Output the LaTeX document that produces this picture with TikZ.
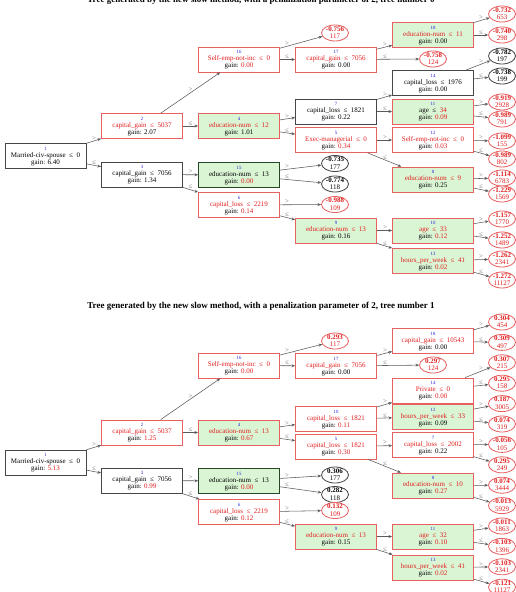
\documentclass[tikz,border=0pt]{standalone}
\usepackage{fontspec}
\setmainfont{Liberation Serif}
\usetikzlibrary{arrows.meta,calc,shapes.geometric}
\definecolor{tred}{RGB}{226,30,30}
\definecolor{bred}{RGB}{232,96,96}
\definecolor{bdark}{RGB}{70,70,70}
\definecolor{gdark}{RGB}{40,70,40}
\definecolor{gfill}{RGB}{218,245,212}
\definecolor{idblue}{RGB}{30,30,220}
\definecolor{egray}{RGB}{90,90,90}
\definecolor{lgray}{RGB}{110,110,110}
\newcommand\LEQ{\enskip≤\enskip}
\newcommand\R[1]{\textcolor{tred}{#1}}
\tikzset{
 box/.style={draw=bred, line width=0.8pt, fill=white, minimum width=81pt, minimum height=25pt, inner sep=0pt},
 boxk/.style={box, draw=bdark},
 boxg/.style={box, fill=gfill},
 boxgk/.style={box, fill=gfill, draw=gdark},
 leaf/.style={ellipse, draw=#1, line width=0.8pt, minimum width=27pt, minimum height=16pt, inner sep=0pt, fill=white},
 idt/.style={font=\fontsize{4.8}{5}\selectfont, text=idblue, inner sep=0pt, text height=3.4pt, text depth=0pt},
 lt/.style={font=\fontsize{7}{7}\selectfont, inner sep=0pt, text height=4.8pt, text depth=1.4pt},
 edge/.style={draw=egray, line width=0.55pt, -{Stealth[length=3.6pt,width=2.9pt]}},
 elab/.style={font=\fontsize{6.8}{7}\selectfont, text=lgray, inner sep=0.6pt, anchor=south},
 ttl/.style={font=\bfseries\fontsize{9}{9}\selectfont, inner sep=0pt, anchor=base},
}
% name, pos, style, id, line1, line2
\newcommand\tnode[6]{%
 \node[#3] (#1) at (#2) {};
 \node[idt] (#1-i) at ($(#1)+(0,-7.6)$) {#4};
 \node[lt] (#1-a) at ($(#1)+(0,-0.6)$) {#5};
 \node[lt] (#1-b) at ($(#1)+(0,6.4)$) {#6};
}
% name, pos, border colour, text colour, value, count
\newcommand\lnode[6]{%
 \node[leaf=#3] (#1) at (#2) {};
 \node[lt, text=#4] (#1-a) at ($(#1)+(0,-3.4)$) {\textbf{#5}};
 \node[lt, text=#4] (#1-b) at ($(#1)+(0,4.0)$) {#6};
}
% from, to, label, gap
\newcommand\edg[4]{%
 \draw[edge] (#1) -- (#2);
 \node[elab] at (intersection of #1--#2 and #4a--#4b) {#3};
}
\begin{document}
\begin{tikzpicture}[x=1pt,y=-1pt]
\useasboundingbox (0,0) rectangle (516,592);
\fill[white] (0,0) rectangle (516,592);
\coordinate (g1a) at (94,0);    \coordinate (g1b) at (94,10);
\coordinate (g2a) at (190.5,0); \coordinate (g2b) at (190.5,10);
\coordinate (g3a) at (287,0);   \coordinate (g3b) at (287,10);
\coordinate (g4a) at (385,0);   \coordinate (g4b) at (385,10);
\coordinate (g5a) at (481,0);   \coordinate (g5b) at (481,10);

% ---------------- tree 0 ----------------
\node[ttl] (t0) at (261,2) {Tree generated by the new slow method, with a penalization parameter of 2, tree number 0};

\tnode{n1}{45.5,156}{boxk}{1}{Married-civ-spouse\LEQ 0}{gain: 6.40}
\tnode{n2}{142,126}{box}{2}{\R{capital\_gain\LEQ 5037}}{gain: 2.07}
\tnode{n3}{142,174.5}{boxk}{3}{capital\_gain\LEQ 7056}{gain: 1.34}
\tnode{n16}{239,59.5}{box}{16}{\R{Self-emp-not-inc\LEQ 0}}{gain: \R{0.00}}
\tnode{n4}{239,126}{boxg}{4}{\R{education-num\LEQ 12}}{gain: 1.01}
\tnode{n15}{239,175}{boxgk}{15}{education-num\LEQ 13}{gain: \R{0.00}}
\tnode{n6}{239,205}{box}{6}{\R{capital\_loss\LEQ 2219}}{gain: \R{0.14}}
\tnode{n17}{336,59.5}{box}{17}{\R{capital\_gain\LEQ 7056}}{gain: 0.00}
\tnode{n7}{336,111.5}{boxk}{7}{capital\_loss\LEQ 1821}{gain: 0.22}
\tnode{n5}{336,140}{box}{5}{\R{Exec-managerial\LEQ 0}}{gain: \R{0.34}}
\tnode{n9}{336,230.5}{boxg}{9}{\R{education-num\LEQ 13}}{gain: 0.16}
\tnode{n18}{433,35}{boxg}{18}{\R{education-num\LEQ 11}}{gain: 0.00}
\tnode{n14}{433,83}{boxk}{14}{capital\_loss\LEQ 1976}{gain: 0.00}
\tnode{n11}{433,111.5}{boxg}{11}{age\LEQ\R{34}}{gain: \R{0.09}}
\tnode{n12}{433,140}{box}{12}{\R{Self-emp-not-inc\LEQ 0}}{gain: \R{0.03}}
\tnode{n8}{433,179.5}{boxg}{8}{\R{education-num\LEQ 9}}{gain: 0.25}
\tnode{n10}{433,230.5}{boxg}{10}{\R{age\LEQ 33}}{gain: \R{0.12}}
\tnode{n13}{433,261}{boxg}{13}{\R{hours\_per\_week\LEQ 41}}{gain: \R{0.02}}

\lnode{a1}{502,14}{bred}{tred}{-0.732}{653}
\lnode{a2}{502,35}{bred}{tred}{-0.740}{298}
\lnode{a3}{335,33}{bred}{tred}{-0.756}{117}
\lnode{a4}{433,59}{bred}{tred}{-0.758}{124}
\lnode{a5}{502,56}{bdark}{black}{-0.782}{197}
\lnode{a6}{502,76}{bdark}{black}{-0.738}{199}
\lnode{a7}{502,102}{bred}{tred}{-0.919}{2928}
\lnode{a8}{502,119}{bred}{tred}{-0.989}{791}
\lnode{a9}{502,141}{bred}{tred}{-1.099}{155}
\lnode{a10}{502,159}{bred}{tred}{-0.989}{802}
\lnode{a11}{502,178}{bred}{tred}{-1.114}{6783}
\lnode{a12}{502,194}{bred}{tred}{-1.229}{1569}
\lnode{a13}{502,219}{bred}{tred}{-1.157}{1770}
\lnode{a14}{502,240}{bred}{tred}{-1.252}{1489}
\lnode{a15}{502,259}{bred}{tred}{-1.262}{2341}
\lnode{a16}{502,280}{bred}{tred}{-1.272}{11127}
\lnode{a17}{335,163.5}{bdark}{black}{-0.735}{177}
\lnode{a18}{335,184}{bdark}{black}{-0.774}{118}
\lnode{a19}{335,204.5}{bred}{tred}{-0.988}{109}

\edg{n1}{n2}{>}{g1}
\edg{n1}{n3}{≤}{g1}
\edg{n2}{n16}{>}{g2}
\edg{n2}{n4}{≤}{g2}
\edg{n3}{n15}{>}{g2}
\edg{n3}{n6}{≤}{g2}
\edg{n16}{a3}{>}{g3}
\edg{n16}{n17}{≤}{g3}
\edg{n4}{n7}{>}{g3}
\edg{n4}{n5}{≤}{g3}
\edg{n15}{a17}{>}{g3}
\edg{n15}{a18}{≤}{g3}
\edg{n6}{a19}{>}{g3}
\edg{n6}{n9}{≤}{g3}
\edg{n17}{n18}{>}{g4}
\edg{n17}{a4}{≤}{g4}
\edg{n7}{n14}{>}{g4}
\edg{n7}{n11}{≤}{g4}
\edg{n5}{n12}{>}{g4}
\edg{n5}{n8}{≤}{g4}
\edg{n9}{n10}{>}{g4}
\edg{n9}{n13}{≤}{g4}
\edg{n18}{a1}{>}{g5}
\edg{n18}{a2}{≤}{g5}
\edg{n14}{a5}{>}{g5}
\edg{n14}{a6}{≤}{g5}
\edg{n11}{a7}{>}{g5}
\edg{n11}{a8}{≤}{g5}
\edg{n12}{a9}{>}{g5}
\edg{n12}{a10}{≤}{g5}
\edg{n8}{a11}{>}{g5}
\edg{n8}{a12}{≤}{g5}
\edg{n10}{a13}{>}{g5}
\edg{n10}{a14}{≤}{g5}
\edg{n13}{a15}{>}{g5}
\edg{n13}{a16}{≤}{g5}

% ---------------- tree 1 ----------------
\node[ttl] (t1) at (261,308) {Tree generated by the new slow method, with a penalization parameter of 2, tree number 1};

\tnode{m1}{45.5,462.5}{boxk}{1}{Married-civ-spouse\LEQ 0}{gain: \R{5.13}}
\tnode{m2}{142,432.5}{box}{2}{\R{capital\_gain\LEQ 5037}}{gain: \R{1.25}}
\tnode{m3}{142,480.5}{boxk}{3}{capital\_gain\LEQ 7056}{gain: \R{0.99}}
\tnode{m16}{239,365.5}{box}{16}{\R{Self-emp-not-inc\LEQ 0}}{gain: \R{0.00}}
\tnode{m4}{239,432.5}{boxg}{4}{\R{education-num\LEQ 13}}{gain: \R{0.67}}
\tnode{m15}{239,481}{boxgk}{15}{education-num\LEQ 13}{gain: \R{0.00}}
\tnode{m6}{239,512}{box}{6}{\R{capital\_loss\LEQ 2219}}{gain: \R{0.12}}
\tnode{m17}{336,366}{box}{17}{\R{capital\_gain\LEQ 7056}}{gain: 0.00}
\tnode{m10}{336,419}{box}{10}{\R{capital\_loss\LEQ 1821}}{gain: \R{0.11}}
\tnode{m5}{336,446.5}{box}{5}{\R{capital\_loss\LEQ 1821}}{gain: \R{0.30}}
\tnode{m9}{336,536.5}{boxg}{9}{\R{education-num\LEQ 13}}{gain: 0.15}
\tnode{m18}{433,341}{box}{18}{\R{capital\_gain\LEQ 10543}}{gain: 0.00}
\tnode{m14}{433,390.5}{box}{14}{\R{Private\LEQ 0}}{gain: \R{0.00}}
\tnode{m12}{433,417}{boxg}{12}{\R{hours\_per\_week\LEQ 33}}{gain: 0.09}
\tnode{m7}{433,445}{box}{7}{\R{capital\_loss\LEQ 2002}}{gain: 0.22}
\tnode{m8}{433,485.5}{boxg}{8}{\R{education-num\LEQ 10}}{gain: \R{0.27}}
\tnode{m11}{433,536.5}{boxg}{11}{\R{age\LEQ 32}}{gain: \R{0.10}}
\tnode{m13}{433,567.5}{boxg}{13}{\R{hours\_per\_week\LEQ 41}}{gain: \R{0.02}}

\lnode{b1}{335,341}{bred}{tred}{0.293}{117}
\lnode{b2}{433,365}{bred}{tred}{0.297}{124}
\lnode{b3}{502,322}{bred}{tred}{0.304}{454}
\lnode{b4}{502,342.4}{bred}{tred}{0.309}{497}
\lnode{b5}{502,362.8}{bred}{tred}{0.307}{215}
\lnode{b6}{502,383.2}{bred}{tred}{0.295}{158}
\lnode{b7}{502,403.6}{bred}{tred}{0.187}{3005}
\lnode{b8}{502,424}{bred}{tred}{0.074}{319}
\lnode{b9}{502,444.4}{bred}{tred}{-0.056}{105}
\lnode{b10}{502,464.8}{bred}{tred}{0.295}{249}
\lnode{b11}{502,485.2}{bred}{tred}{0.074}{3444}
\lnode{b12}{502,505.6}{bred}{tred}{-0.013}{5929}
\lnode{b13}{502,526}{bred}{tred}{-0.011}{1863}
\lnode{b14}{502,546.4}{bred}{tred}{-0.103}{1396}
\lnode{b15}{502,566.8}{bred}{tred}{-0.103}{2341}
\lnode{b16}{502,587.2}{bred}{tred}{-0.121}{11127}
\lnode{b17}{335,475}{bdark}{black}{0.306}{177}
\lnode{b18}{335,494.5}{bdark}{black}{0.282}{118}
\lnode{b19}{335,510.5}{bred}{tred}{0.132}{109}

\edg{m1}{m2}{>}{g1}
\edg{m1}{m3}{≤}{g1}
\edg{m2}{m16}{>}{g2}
\edg{m2}{m4}{≤}{g2}
\edg{m3}{m15}{>}{g2}
\edg{m3}{m6}{≤}{g2}
\edg{m16}{b1}{>}{g3}
\edg{m16}{m17}{≤}{g3}
\edg{m4}{m10}{>}{g3}
\edg{m4}{m5}{≤}{g3}
\edg{m15}{b17}{>}{g3}
\edg{m15}{b18}{≤}{g3}
\edg{m6}{b19}{>}{g3}
\edg{m6}{m9}{≤}{g3}
\edg{m17}{m18}{>}{g4}
\edg{m17}{b2}{≤}{g4}
\edg{m10}{m14}{>}{g4}
\edg{m10}{m12}{≤}{g4}
\edg{m5}{m7}{>}{g4}
\edg{m5}{m8}{≤}{g4}
\edg{m9}{m11}{>}{g4}
\edg{m9}{m13}{≤}{g4}
\edg{m18}{b3}{>}{g5}
\edg{m18}{b4}{≤}{g5}
\edg{m14}{b5}{>}{g5}
\edg{m14}{b6}{≤}{g5}
\edg{m12}{b7}{>}{g5}
\edg{m12}{b8}{≤}{g5}
\edg{m7}{b9}{>}{g5}
\edg{m7}{b10}{≤}{g5}
\edg{m8}{b11}{>}{g5}
\edg{m8}{b12}{≤}{g5}
\edg{m11}{b13}{>}{g5}
\edg{m11}{b14}{≤}{g5}
\edg{m13}{b15}{>}{g5}
\edg{m13}{b16}{≤}{g5}
\end{tikzpicture}
\end{document}
